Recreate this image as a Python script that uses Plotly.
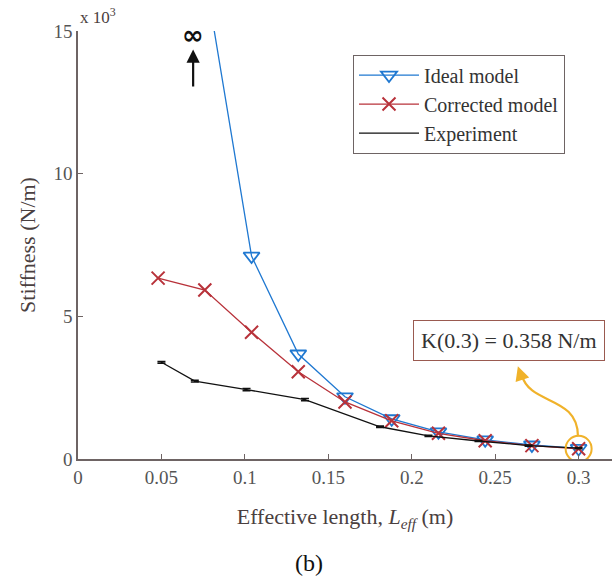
import plotly.graph_objects as go

# Effective length (m) and stiffness values (x 10^3 N/m)
x_model = [0.048, 0.076, 0.104, 0.132, 0.160, 0.188, 0.216, 0.244, 0.272, 0.300]
ideal_x = [0.076, 0.104, 0.132, 0.160, 0.188, 0.216, 0.244, 0.272, 0.300]
ideal_k = [17.0, 7.11, 3.68, 2.18, 1.41, 0.95, 0.67, 0.49, 0.37]
corrected_k = [6.34, 5.92, 4.44, 3.06, 2.00, 1.34, 0.90, 0.64, 0.47, 0.358]
exp_x = [0.050, 0.070, 0.101, 0.136, 0.181, 0.210, 0.240, 0.270, 0.300]
exp_k = [3.39, 2.73, 2.43, 2.08, 1.13, 0.81, 0.63, 0.47, 0.38]
exp_err = [0.03, 0.03, 0.04, 0.04, 0.03, 0.02, 0.02, 0.02, 0.02]

x_ticks = [0, 0.05, 0.1, 0.15, 0.2, 0.25, 0.3]
x_ticktext = ["0", "0.05", "0.1", "0.15", "0.2", "0.25", "0.3"]
y_ticks = [0, 5, 10, 15]
y_ticktext = ["0", "5", "10", "15"]

BLUE = "#1f78d1"
RED = "#b8323a"
ORANGE = "#f0b22a"
AX = "#6e6464"
TXT = "#4a4040"
SERIF = "Liberation Serif"

fig = go.Figure()
fig.add_trace(go.Scatter(
    x=ideal_x, y=ideal_k, mode="lines+markers", name="Ideal model",
    line=dict(color=BLUE, width=1.3),
    marker=dict(symbol="triangle-down-open", size=14, color=BLUE, line=dict(width=1.8)),
))
fig.add_trace(go.Scatter(
    x=x_model, y=corrected_k, mode="lines+markers", name="Corrected model",
    line=dict(color=RED, width=1.3),
    marker=dict(symbol="x-thin-open", size=13, color=RED, line=dict(width=2, color=RED)),
))
fig.add_trace(go.Scatter(
    x=exp_x, y=exp_k, mode="lines", name="Experiment",
    line=dict(color="#111111", width=1.3),
    error_y=dict(type="data", array=exp_err, color="#111111", thickness=1.5, width=4),
))

# orange highlight circle at last point
fig.add_shape(type="circle", xref="x", yref="y", xsizemode="pixel", ysizemode="pixel",
              xanchor=x_model[-1], yanchor=corrected_k[-1],
              x0=-13, x1=13, y0=-13, y1=13, line=dict(color=ORANGE, width=2))
# curved arrow
fig.add_shape(type="path", xref="x", yref="y",
              path="M 0.2996,0.80 C 0.2996,2.23 0.2708,1.88 0.2660,2.93",
              line=dict(color=ORANGE, width=2.2))
fig.add_annotation(x=0.2636, y=3.25, xref="x", yref="y", ax=4, ay=12, text="",
                   showarrow=True, arrowhead=2, arrowsize=1.3, arrowwidth=2.2,
                   arrowcolor=ORANGE)
fig.add_annotation(x=0.2585, y=4.16, xref="x", yref="y",
                   text="K(0.3) = 0.358 N/m", showarrow=False,
                   font=dict(family=SERIF, size=22, color="#333333"),
                   bordercolor="#9a5a50", borderwidth=1, borderpad=7, bgcolor="white")

# infinity with arrow
fig.add_annotation(x=0.069, y=14.35, xref="x", yref="y", ax=0.069, ay=13.0,
                   axref="x", ayref="y", text="", showarrow=True,
                   arrowhead=2, arrowsize=1.2, arrowwidth=2.2, arrowcolor="#111111")
fig.add_annotation(x=0.069, y=14.85, xref="x", yref="y", text="<b>∞</b>",
                   showarrow=False, font=dict(family="DejaVu Sans", size=26, color="#111111"))

fig.add_annotation(x=0.0, y=1.036, xref="paper", yref="paper", xanchor="left", yanchor="middle",
                   text="x 10<sup>3</sup>",
                   showarrow=False, font=dict(family=SERIF, size=17, color=TXT))
fig.add_annotation(x=0.432, y=-0.244, xref="paper", yref="paper", yanchor="middle",
                   text="(b)",
                   showarrow=False, font=dict(family=SERIF, size=24, color="#111111"))

fig.update_layout(
    width=616, height=579,
    margin=dict(l=78, r=4, t=31, b=120),
    paper_bgcolor="white", plot_bgcolor="white",
    font=dict(family=SERIF, color=TXT),
    showlegend=True,
    legend=dict(x=0.515, y=0.945, xanchor="left", yanchor="top",
                bordercolor=AX, borderwidth=1, bgcolor="white",
                font=dict(family=SERIF, size=20, color="#333333"),
                itemwidth=60, tracegroupgap=4),
    xaxis=dict(range=[0, 0.32], tickvals=x_ticks, ticktext=x_ticktext,
               showgrid=False, zeroline=False, showline=True, linecolor=AX, linewidth=1.5,
               ticks="inside", ticklen=5, tickcolor=AX,
               tickfont=dict(family=SERIF, size=19, color="#555555"),
               title=dict(text="Effective length, <i>L</i><sub><i>eff</i></sub> (m)",
                          font=dict(family=SERIF, size=22, color=TXT), standoff=22)),
    yaxis=dict(range=[0, 15], tickvals=y_ticks, ticktext=y_ticktext,
               showgrid=False, zeroline=False, showline=True, linecolor=AX, linewidth=1.5,
               ticks="inside", ticklen=5, tickcolor=AX,
               tickfont=dict(family=SERIF, size=19, color="#555555"),
               title=dict(text="Stiffness (N/m)",
                          font=dict(family=SERIF, size=22, color=TXT), standoff=12)),
)

fig.write_html("out.html")
